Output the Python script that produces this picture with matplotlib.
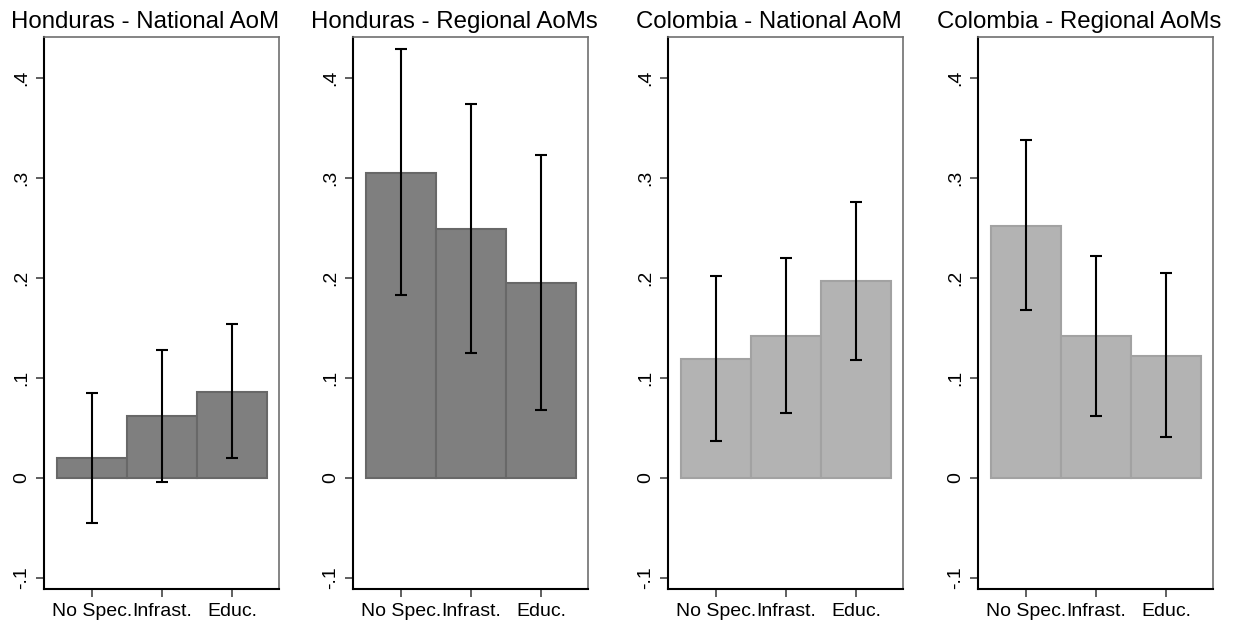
import matplotlib
matplotlib.use("Agg")
import matplotlib.pyplot as plt

plt.rcParams['font.family'] = ['Liberation Sans', 'DejaVu Sans']

titles = ["Honduras - National AoM", "Honduras - Regional AoMs",
          "Colombia - National AoM", "Colombia - Regional AoMs"]
categories = ["No Spec.", "Infrast.", "Educ."]

# point estimates and confidence bounds for each panel
estimates = [
    [0.020, 0.062, 0.086],
    [0.305, 0.249, 0.195],
    [0.119, 0.142, 0.197],
    [0.252, 0.142, 0.122],
]
ci_low = [
    [-0.045, -0.004, 0.020],
    [0.183, 0.125, 0.068],
    [0.037, 0.065, 0.118],
    [0.168, 0.062, 0.041],
]
ci_high = [
    [0.085, 0.128, 0.154],
    [0.429, 0.374, 0.323],
    [0.202, 0.220, 0.276],
    [0.338, 0.222, 0.205],
]
yticks = [-0.1, 0, 0.1, 0.2, 0.3, 0.4]
ytick_labels = ["-.1", "0", ".1", ".2", ".3", ".4"]

fills = ["#7f7f7f", "#7f7f7f", "#b3b3b3", "#b3b3b3"]
edges = ["#686868", "#686868", "#a2a2a2", "#a2a2a2"]

fig = plt.figure(figsize=(12.34, 6.28), dpi=100)
lefts = [44, 353, 668, 978]

for i in range(4):
    ax = fig.add_axes([lefts[i] / 1234, 39 / 628, 235 / 1234, 552 / 628])
    x = range(len(categories))
    ax.bar(x, estimates[i], width=1.0, color=fills[i], edgecolor=edges[i], linewidth=1.5)
    lo = [e - l for e, l in zip(estimates[i], ci_low[i])]
    hi = [h - e for e, h in zip(estimates[i], ci_high[i])]
    ax.errorbar(x, estimates[i], yerr=[lo, hi], fmt="none", ecolor="black",
                elinewidth=1.5, capsize=4, capthick=1.5)
    ax.set_xlim(-0.68, 2.67)
    ax.set_ylim(-0.111, 0.441)
    ax.set_xticks(list(x))
    ax.set_xticklabels(categories, fontsize=14)
    ax.set_yticks(yticks)
    ax.set_yticklabels(ytick_labels, fontsize=14, rotation=90, va="center")
    ax.tick_params(axis="both", direction="out", length=6, width=1.2, color="#444444", pad=4)
    ax.spines["left"].set_color("black")
    ax.spines["bottom"].set_color("black")
    ax.spines["left"].set_linewidth(1.5)
    ax.spines["bottom"].set_linewidth(1.5)
    ax.spines["top"].set_color("#707070")
    ax.spines["right"].set_color("#707070")
    ax.spines["top"].set_linewidth(1.2)
    ax.spines["right"].set_linewidth(1.2)
    ax.text(0.43, 1.017, titles[i], transform=ax.transAxes, ha="center",
            va="baseline", fontsize=17.3)

fig.savefig("out.png", dpi=100)
